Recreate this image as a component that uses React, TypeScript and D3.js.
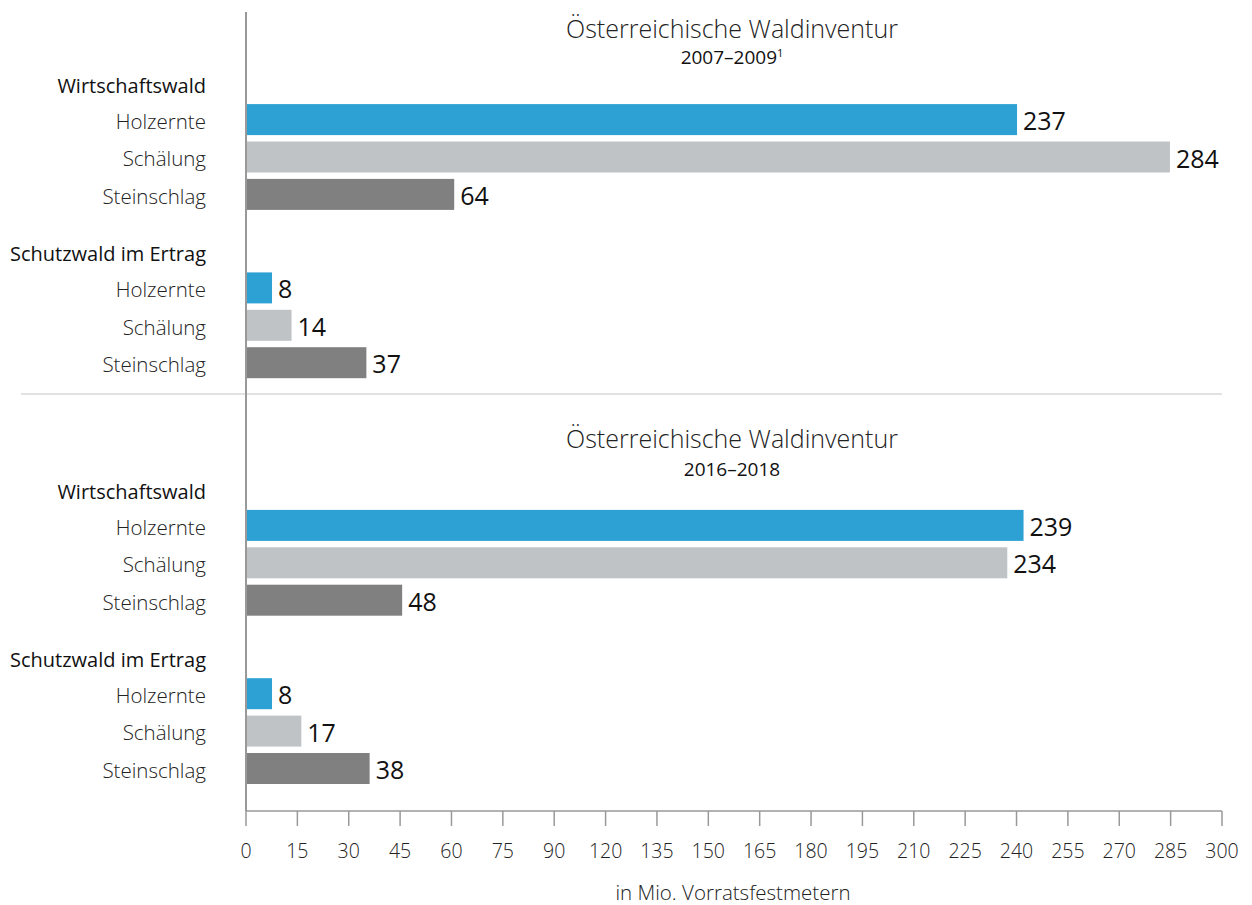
import React from "react";
import * as d3 from "d3";

const panels = ["2007–2009", "2016–2018"];
const panelFootnotes = ["1", ""];
const groups = ["Wirtschaftswald", "Schutzwald im Ertrag"];
const categories = ["Holzernte", "Schälung", "Steinschlag"];
// values[panel][group][category]
const values1 = [
  [237, 284, 64],
  [8, 14, 37],
];
const values2 = [
  [239, 234, 48],
  [8, 17, 38],
];
const allValues = [values1, values2];
const tickLabels = ["0", "15", "30", "45", "60", "75", "90", "120", "135", "150", "165", "180", "195", "210", "225", "240", "255", "270", "285", "300"];
const colors = ["#2ea1d4", "#c0c3c6", "#808080"];

const W = 1252;
const H = 905;
const FONT = "'Open Sans', 'Noto Sans', sans-serif";

export default function App() {
  const x = d3.scaleLinear().domain([0, 300]).range([246, 1222]);
  const tickX = d3.scalePoint<string>().domain(tickLabels).range([x(0), x(300)]);
  const step = 37.4;
  const panelTop = [82.2, 488];
  const barH = 31;
  // slot index: header 0, bars 1..3, header 4.5, bars 5.5..7.5
  const slot = (g: number, c: number) => g * 4.5 + (c < 0 ? 0 : c + 1);
  const yPos = (p: number, g: number, c: number) => panelTop[p] + slot(g, c) * step;
  const labelX = 206;
  const axisY = 811;

  return (
    <svg width={W} height={H} style={{ position: "absolute", left: 0, top: 0, background: "#fff" }} fontFamily={FONT}>
      {/* separator */}
      <line x1={21} x2={1222} y1={394} y2={394} stroke="#e2e2e2" strokeWidth={2} />
      {panels.map((pTitle, p) => (
        <g key={p}>
          <text x={732} y={p === 0 ? 38 : 448} textAnchor="middle" fontSize={25} fontWeight={300} fill="#222">
            Österreichische Waldinventur
          </text>
          <text x={732} y={p === 0 ? 64 : 476} textAnchor="middle" fontSize={19} fill="#111">
            {pTitle}
            {panelFootnotes[p] && (
              <tspan fontSize={11} dy={-7}>{panelFootnotes[p]}</tspan>
            )}
          </text>
          {groups.map((g, gi) => (
            <g key={gi}>
              <text x={labelX} y={yPos(p, gi, -1) + 3.5} dy="0.36em" textAnchor="end" fontSize={20} fill="#111">
                {g}
              </text>
              {categories.map((c, ci) => {
                const v = allValues[p][gi][ci];
                const yc = yPos(p, gi, ci);
                return (
                  <g key={ci}>
                    <text x={labelX} y={yc + 2} dy="0.36em" textAnchor="end" fontSize={20.5} fontWeight={300} fill="#222">
                      {c}
                    </text>
                    <rect x={x(0)} y={yc - barH / 2} width={x(v) - x(0)} height={barH} fill={colors[ci]} />
                    <text x={x(v) + 6} y={yc + 10.5} fontSize={25} fill="#111">
                      {v}
                    </text>
                  </g>
                );
              })}
            </g>
          ))}
        </g>
      ))}
      {/* vertical axis line */}
      <line x1={x(0)} x2={x(0)} y1={12} y2={axisY} stroke="#999" strokeWidth={2} />
      {/* x axis */}
      <line x1={x(0)} x2={x(300)} y1={axisY} y2={axisY} stroke="#999" strokeWidth={1.5} />
      {tickLabels.map((t) => (
        <g key={t}>
          <line x1={tickX(t)} x2={tickX(t)} y1={axisY} y2={axisY + 15} stroke="#999" strokeWidth={1.5} />
          <text x={tickX(t)} y={858} textAnchor="middle" fontSize={19.5} fontWeight={300} fill="#222">
            {t}
          </text>
        </g>
      ))}
      <text x={733} y={900} textAnchor="middle" fontSize={20.5} fontWeight={300} fill="#222">
        in Mio. Vorratsfestmetern
      </text>
    </svg>
  );
}
